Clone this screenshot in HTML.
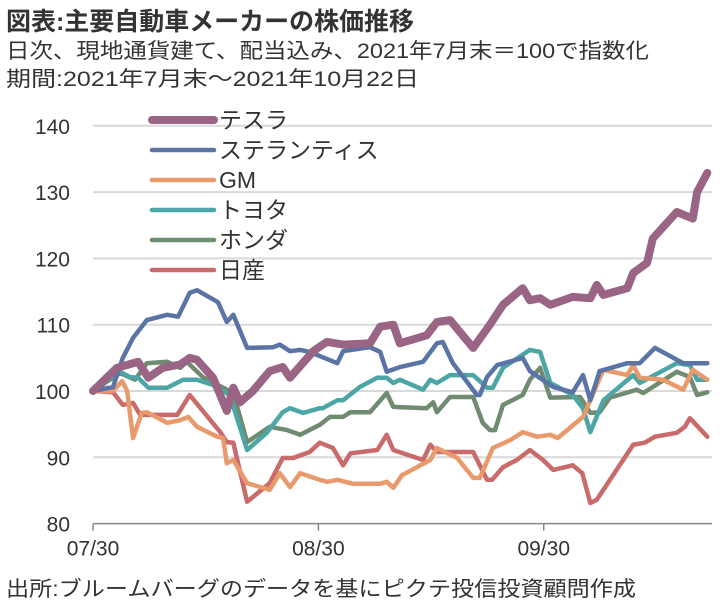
<!DOCTYPE html>
<html><head><meta charset="utf-8"><style>
body{margin:0;background:#fff;width:720px;height:611px;overflow:hidden;font-family:"Liberation Sans","Noto Sans CJK JP",sans-serif;color:#333}
svg text{font-family:"Liberation Sans","Noto Sans CJK JP",sans-serif;fill:#333}
</style></head><body>
<svg id="c" width="720" height="611">
<text x="6" y="30" font-size="25" font-weight="bold" textLength="408" lengthAdjust="spacingAndGlyphs">図表:主要自動車メーカーの株価推移</text>
<text x="6" y="58" font-size="21" textLength="643" lengthAdjust="spacingAndGlyphs">日次、現地通貨建て、配当込み、2021年7月末＝100で指数化</text>
<text x="6" y="86" font-size="21" textLength="413" lengthAdjust="spacingAndGlyphs">期間:2021年7月末～2021年10月22日</text>
<text x="6" y="596" font-size="21" textLength="630" lengthAdjust="spacingAndGlyphs">出所:ブルームバーグのデータを基にピクテ投信投資顧問作成</text>
<g id="grid"></g><g id="lines"></g><g id="legend"></g>
</svg>
<script>
const yTicks=[80,90,100,110,120,130,140];
const xTickLabels=["07/30","08/30","09/30"];
const xTickDays=[0,31,62];
const seriesNames=["テスラ","ステランティス","GM","トヨタ","ホンダ","日産"];
const teslaDays=[0,3.3,6.2,7.6,9.6,12,13.3,14.3,16.5,18.4,19.3,20.2,22,24.3,26.1,27.1,30.3,31.6,32.2,34.4,38.1,39.5,41.3,42.2,45.9,47.3,49.1,52.3,54.6,56.4,59.1,60.1,61.5,62.9,66,68.4,69.3,70.2,73.5,74.3,76.2,77,80.3,82.5,83.1,84.5];
const teslaVals=[100,103.5,104.4,102,103.5,104,105,104.7,102,97,100.5,98.3,100,103,103.6,102,106,107,107.4,107,107.2,109.7,110,107.2,108.4,110.4,110.7,106.5,110,113,115.5,113.7,114,113,114.2,114,116,114.5,115.5,117.8,119.3,123,127,126,130,132.9];
const stelDays=[0,2.75,4.1,5.5,7.4,10.2,11.7,13.3,14.3,17.2,18.4,19.3,21.2,24.8,25.7,27.1,28.5,29.8,33.6,34.4,38.1,39.5,40.4,42.2,45.4,47.3,48.1,49.5,52.8,53.2,54.2,55.6,59.1,60.1,63.3,66,67.4,68.4,69.7,73.5,75.2,77.3,81.2,84.5];
const stelVals=[100,100.6,105,108,110.7,111.5,111.2,114.8,115.2,113.4,110.4,111.5,106.5,106.6,107,106,106.2,105.9,104.2,106,106.6,105.9,102.9,103.6,104.4,107.2,107.4,104.2,99.4,99.4,102.1,103.9,105,103,100.6,99.8,102.4,98.6,103,104.2,104.2,106.5,104.2,104.2];
const gmDays=[0,2.75,4,4.7,5.5,6.7,7.4,10.2,12,13.1,14.3,17.1,17.9,18.4,19.3,21.2,24.3,25.7,27.1,28.5,31.2,32.2,33.6,35.8,39.5,40.4,41.3,42.5,46.4,47.3,50.1,52.3,53.2,55,57.4,59.1,61.1,62.9,63.9,67.4,70.2,73.5,74.3,75.2,78.4,81.2,82.5,84.5];
const gmVals=[100,100,101.5,100,92.9,96.7,96.8,95.2,95.6,96.1,94.6,93.1,92.9,89.1,89.6,86.1,85.1,87.6,85.5,87.6,86.6,86.3,86.6,86,86,86.3,85.4,87.3,89.6,91.4,89.9,86.9,86.9,91.4,92.6,93.8,93.1,93.4,92.9,96.1,103.2,102.4,103.9,102,101.7,100.2,103.2,101.7];
const toyDays=[0,3.7,5.1,6.2,7.6,10.2,12.4,14.3,16.5,18.8,21.2,23.9,26.1,27.1,28.9,31.2,31.6,33.6,34.4,36.7,39.1,40.4,41.3,42.2,45.4,46.4,47.3,49.1,52.3,54.2,55,56.4,60.1,61.5,62.9,66,67.4,68.4,70.2,74.3,75.2,80.3,82.1,83.1,84.5];
const toyVals=[100,102.9,102.1,102,100.5,100.5,101.7,101.7,100.9,99.4,91.1,93.7,96.8,97.4,96.7,97.4,97.4,98.6,98.6,100.6,102,102,101.2,101.7,100.2,101.7,101.2,102.4,102.4,100.5,100.5,103.5,106.2,105.9,101.2,99.4,97.4,93.8,98.6,102.4,101.2,104.2,103.9,101.7,101.7];
const honDays=[0,3.7,5.8,7.4,10.2,12,12.9,15.1,19.3,21.2,24.3,26.7,28.5,31.2,32.6,34.4,35.4,38.1,40.4,41.3,45.9,46.8,47.3,49.1,52.3,53.6,54.6,55.3,56.4,59.1,60.1,61.5,62.9,67,68.4,69.7,71.1,74.8,75.7,80.3,82.1,83.1,84.5];
const honVals=[100,102.7,101.7,104.2,104.4,103.5,104.4,102.1,99.7,92.3,94.6,94.1,93.4,94.9,96.1,96.1,96.8,96.8,99.7,97.6,97.4,98.3,96.8,99.1,99.1,95.2,94.1,94.1,97.9,99.4,101.7,103.5,99,99.1,96.7,96.8,99,100.2,99.7,102.9,102.1,99.4,99.8];
const nisDays=[0,2.75,4.1,5.5,6.5,11.6,13.3,17.5,18.4,19.3,21.2,24.3,26.1,27.5,29.8,31.2,33,34.4,35.4,39.1,40.4,41.3,45.4,46.4,47.3,52.3,54.2,54.9,56.4,58.3,60.1,61.9,63.3,66,67.3,68.4,69.3,74.3,75.9,77.3,80.3,81.4,82.1,84.5];
const nisVals=[100,99.8,97.9,98.2,96.4,96.4,99.4,93.8,92.3,92.2,83.3,86.1,89.9,89.9,90.8,92.2,91.4,88.8,90.6,91.1,93.4,91.1,89.6,91.9,90.8,90.8,86.6,86.6,88.5,89.6,91.1,89.6,88.1,88.8,87.6,83.1,83.6,91.9,92.2,93.1,93.7,94.6,95.9,93.1];
const seriesDays=[teslaDays,stelDays,gmDays,toyDays,honDays,nisDays];
const seriesVals=[teslaVals,stelVals,gmVals,toyVals,honVals,nisVals];
const colors=["#9a6485","#5a74a6","#e89a6c","#4ca6a6","#6f8b70","#c96b6b"];
const widths=[8,4.5,4.5,4.5,4.5,4.5];
const keys=["tesla","stellantis","gm","toyota","honda","nissan"];
const NS="http://www.w3.org/2000/svg";
const x=d=>93+d*7.27;
const y=v=>391-(v-100)*6.63;
const grid=document.getElementById('grid'),lines=document.getElementById('lines'),legend=document.getElementById('legend');
function mk(tag,attrs,parent){const e=document.createElementNS(NS,tag);for(const k in attrs)e.setAttribute(k,attrs[k]);parent.appendChild(e);return e;}
yTicks.forEach(v=>{
  if(v>80){const g=mk('line',{x1:93,x2:712,y1:y(v),y2:y(v),stroke:'#d9d9d9','stroke-width':2},grid);
  
  }
  const t=mk('text',{x:70,y:y(v)+8,'text-anchor':'end','font-size':21},grid);t.textContent=v;
  
  
});
const ax=mk('line',{x1:93,x2:712,y1:y(80),y2:y(80),stroke:'#888','stroke-width':1.5},grid);


xTickDays.forEach((d,i)=>{
  const tk=mk('line',{x1:x(d),x2:x(d),y1:y(80),y2:y(80)+7,stroke:'#888','stroke-width':1.5},grid);
  
  
  const t=mk('text',{x:x(d),y:y(80)+32,'text-anchor':'middle','font-size':21},grid);t.textContent=xTickLabels[i];
  
  
});
for(let s=seriesVals.length-1;s>=0;s--){
  const pts=seriesVals[s].map((v,i)=>x(seriesDays[s][i]).toFixed(1)+','+y(v).toFixed(1)).join(' ');
  const p=mk('polyline',{points:pts,fill:'none',stroke:colors[s],'stroke-width':widths[s],'stroke-linejoin':'round','stroke-linecap':'round'},lines);
  
  
}
seriesNames.forEach((n,i)=>{
  const ly=120+i*30;
  const l=mk('line',{x1:152,x2:214,y1:ly,y2:ly,stroke:colors[i],'stroke-width':widths[i],'stroke-linecap':'round'},legend);
  
  
  const t=mk('text',{x:219,y:ly+8,'font-size':23},legend);t.textContent=n;
  
  
});
</script>
</body></html>
